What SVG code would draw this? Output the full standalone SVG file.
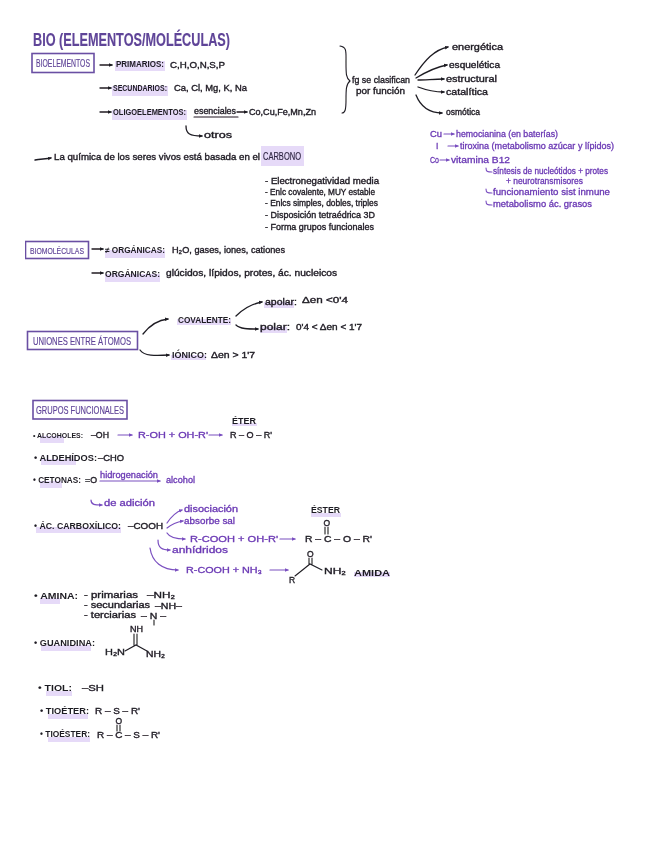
<svg xmlns="http://www.w3.org/2000/svg" width="656" height="848" viewBox="0 0 656 848">
<style>
text{font-family:"Liberation Sans",Arial,sans-serif;font-size:8.500px;fill:#1f1c24;font-weight:bold}
.l{font-size:8.500px;font-weight:normal;stroke:#1f1c24;stroke-width:.35}
.s{font-size:7.500px}
.p{fill:#6a38b4;font-weight:normal;stroke:#6a38b4;stroke-width:.3}
.h{fill:#5f4498;font-weight:normal;font-size:10.500px;stroke:#5f4498;stroke-width:.15}
.hl{fill:#e6daf8;stroke:none}
.box{fill:#fff;stroke:#6a4fa3;stroke-width:1.6}
.c{fill:none;stroke:#1f1c24;stroke-width:1.3;stroke-linecap:round;marker-end:url(#a)}
.n{fill:none;stroke:#1f1c24;stroke-width:1.1;stroke-linecap:round}
.cp{fill:none;stroke:#7a4fc0;stroke-width:1.2;stroke-linecap:round;marker-end:url(#b)}
.np{fill:none;stroke:#7a4fc0;stroke-width:1.1;stroke-linecap:round}
</style>
<defs>
<filter id="soft" x="0" y="0" width="100%" height="100%"><feGaussianBlur stdDeviation="0.35"/></filter>
<marker id="a" markerWidth="5" markerHeight="5" refX="3" refY="2.500" orient="auto" markerUnits="userSpaceOnUse"><path d="M0 .7L4 2.500L0 4.300Z" fill="#1f1c24"/></marker>
<marker id="b" markerWidth="5" markerHeight="5" refX="3" refY="2.500" orient="auto" markerUnits="userSpaceOnUse"><path d="M0 .7L4 2.500L0 4.300Z" fill="#7a4fc0"/></marker>
</defs>
<rect width="656" height="848" fill="#fff"/>
<g filter="url(#soft)">
<g id="connectors">
<path class="c" d="M100 65H112"/><path class="c" d="M100 88H111"/><path class="c" d="M100 112H111"/>
<path class="c" d="M237 112H247"/><path class="c" d="M186 126C186 134 190 136 202 136"/>
<path class="c" d="M35 160C40 159 46 159 51 158"/>
<path class="n" d="M340 46C347 47 346 52 346 62C346 74 346 78 350 81C346 84 346 90 346 100C346 110 345 113 342 113"/>
<path class="c" d="M415 75C425 60 434 50 448 47"/><path class="c" d="M416 78C426 72 436 67 447 65"/><path class="c" d="M418 80C426 80 434 79 444 79"/><path class="c" d="M418 87C426 90 434 92 444 92"/><path class="c" d="M416 95C420 105 428 113 442 113"/>
<path class="c" d="M92 249H103"/><path class="c" d="M92 273H103"/>
<path class="c" d="M143 334C150 325 158 320 168 319"/><path class="c" d="M236 316C242 310 250 304 262 302"/><path class="c" d="M236 325C240 329 248 329 258 329"/><path class="c" d="M140 350C144 356 155 356 169 355"/>
<path class="cp" d="M118 435H132"/><path class="cp" d="M209 435H222"/><path class="cp" d="M100 481H160"/><path class="cp" d="M91 500C91 505 95 505 102 505"/>
<path class="cp" d="M167 523C171 517 176 512 182 510"/><path class="cp" d="M167 528C172 524 177 522 183 521"/><path class="cp" d="M167 533C170 538 176 539 185 539"/><path class="cp" d="M280 539H295"/><path class="cp" d="M158 540C158 548 162 550 170 550"/><path class="cp" d="M150 548C152 562 162 570 178 570"/><path class="cp" d="M270 570H288"/>
<path class="cp" d="M444 134H454"/><path class="cp" d="M448 146H458"/><path class="cp" d="M440 160H449"/>
<path class="np" d="M486 168C486 172 488 172 492 172M486 189C486 193 488 193 492 193M486 201C486 205 488 205 492 205"/>
</g>

<g id="title"><text class="h" x="33" y="46" style="font-size:18px;font-weight:bold" textLength="197" lengthAdjust="spacingAndGlyphs">BIO (ELEMENTOS/MOLÉCULAS)</text></g>

<g id="bioelementos"><rect class="box" x="32" y="53.500" width="62" height="19"/><text class="h" x="36" y="67" textLength="54" lengthAdjust="spacingAndGlyphs">BIOELEMENTOS</text></g>
<g id="primarios"><rect class="hl" x="115" y="61" width="50" height="10"/><text x="116" y="67" textLength="48" lengthAdjust="spacingAndGlyphs">PRIMARIOS:</text><text class="l" x="170" y="68" textLength="55" lengthAdjust="spacingAndGlyphs">C,H,O,N,S,P</text></g>
<g id="secundarios"><rect class="hl" x="112" y="86" width="56" height="10"/><text x="113" y="91" textLength="54" lengthAdjust="spacingAndGlyphs">SECUNDARIOS:</text><text class="l" x="174" y="91" textLength="73" lengthAdjust="spacingAndGlyphs">Ca, Cl, Mg, K, Na</text></g>
<g id="oligoelementos"><rect class="hl" x="112" y="110" width="75" height="10"/><text x="113" y="115" textLength="73" lengthAdjust="spacingAndGlyphs">OLIGOELEMENTOS:</text><text class="l" x="194" y="114" textLength="42" lengthAdjust="spacingAndGlyphs">esenciales</text><path class="n" d="M194 117H238"/><text class="l" x="249" y="115" textLength="67" lengthAdjust="spacingAndGlyphs">Co,Cu,Fe,Mn,Zn</text></g>
<g id="otros"><text class="l" x="204" y="138" textLength="28" lengthAdjust="spacingAndGlyphs">otros</text></g>
<g id="quimica"><rect class="hl" x="261" y="146" width="43" height="20"/><text class="l" x="54" y="160" textLength="206" lengthAdjust="spacingAndGlyphs">La química de los seres vivos está basada en el</text><text class="h" x="263" y="160" textLength="38" lengthAdjust="spacingAndGlyphs" style="fill:#2d2440;stroke:#2d2440">CARBONO</text></g>
<g id="carbono-lista">
<text class="l" x="265" y="184" textLength="114" lengthAdjust="spacingAndGlyphs">- Electronegatividad media</text>
<text class="l" x="265" y="195" textLength="110" lengthAdjust="spacingAndGlyphs">- Enlc covalente, MUY estable</text>
<text class="l" x="265" y="206" textLength="113" lengthAdjust="spacingAndGlyphs">- Enlcs simples, dobles, triples</text>
<text class="l" x="265" y="218" textLength="110" lengthAdjust="spacingAndGlyphs">- Disposición tetraédrica 3D</text>
<text class="l" x="265" y="230" textLength="109" lengthAdjust="spacingAndGlyphs">- Forma grupos funcionales</text>
</g>
<g id="clasifican"><text class="l" x="352" y="83" textLength="58" lengthAdjust="spacingAndGlyphs">fg se clasifican</text><text class="l" x="356" y="94" textLength="49" lengthAdjust="spacingAndGlyphs">por función</text></g>
<g id="funciones">
<text class="l" x="452" y="50" textLength="51" lengthAdjust="spacingAndGlyphs">energética</text>
<text class="l" x="449" y="68" textLength="51" lengthAdjust="spacingAndGlyphs">esquelética</text>
<text class="l" x="446" y="82" textLength="51" lengthAdjust="spacingAndGlyphs">estructural</text>
<text class="l" x="446" y="95" textLength="42" lengthAdjust="spacingAndGlyphs">catalítica</text>
<text class="l" x="446" y="115" textLength="34" lengthAdjust="spacingAndGlyphs">osmótica</text>
</g>
<g id="oligo-notas">
<text class="p" x="430" y="137" textLength="12" lengthAdjust="spacingAndGlyphs">Cu</text><text class="p" x="456" y="137" textLength="102" lengthAdjust="spacingAndGlyphs">hemocianina (en baterías)</text>
<text class="p" x="436" y="149">I</text><text class="p" x="460" y="149" textLength="154" lengthAdjust="spacingAndGlyphs">tiroxina (metabolismo azúcar y lípidos)</text>
<text class="p" x="430" y="163" textLength="9" lengthAdjust="spacingAndGlyphs">Co</text><text class="p" x="451" y="163" textLength="59" lengthAdjust="spacingAndGlyphs">vitamina B12</text>
<text class="p" x="493" y="174" textLength="115" lengthAdjust="spacingAndGlyphs">síntesis de nucleótidos + protes</text>
<text class="p" x="506" y="184" textLength="77" lengthAdjust="spacingAndGlyphs">+ neurotransmisores</text>
<text class="p" x="493" y="195" textLength="117" lengthAdjust="spacingAndGlyphs">funcionamiento sist inmune</text>
<text class="p" x="493" y="207" textLength="99" lengthAdjust="spacingAndGlyphs">metabolismo ác. grasos</text>
</g>

<g id="biomoleculas"><rect class="box" x="25.500" y="241.500" width="63" height="17"/><text class="h" x="30" y="253.500" style="font-size:9px" textLength="54" lengthAdjust="spacingAndGlyphs">BIOMOLÉCULAS</text></g>
<g id="inorganicas"><rect class="hl" x="105" y="250" width="60" height="8"/><text x="105" y="253" textLength="60" lengthAdjust="spacingAndGlyphs">≠ ORGÁNICAS:</text><text class="l" x="172" y="253" textLength="113" lengthAdjust="spacingAndGlyphs">H₂O, gases, iones, cationes</text></g>
<g id="organicas"><rect class="hl" x="105" y="274" width="55" height="8"/><text x="105" y="277" textLength="55" lengthAdjust="spacingAndGlyphs">ORGÁNICAS:</text><text class="l" x="166" y="276" textLength="171" lengthAdjust="spacingAndGlyphs">glúcidos, lípidos, protes, ác. nucleicos</text></g>
<g id="uniones"><rect class="box" x="27.500" y="331.500" width="110" height="18"/><text class="h" x="33" y="345" textLength="98" lengthAdjust="spacingAndGlyphs">UNIONES ENTRE ÁTOMOS</text></g>
<g id="covalente"><rect class="hl" x="177" y="319" width="54" height="6"/><text x="178" y="323" textLength="53" lengthAdjust="spacingAndGlyphs">COVALENTE:</text></g>
<g id="apolar"><rect class="hl" x="264" y="302" width="30" height="6"/><text class="l" x="265" y="305" textLength="32" lengthAdjust="spacingAndGlyphs">apolar:</text><text class="l" x="302" y="303" textLength="46" lengthAdjust="spacingAndGlyphs">Δen &lt;0'4</text></g>
<g id="polar"><rect class="hl" x="260" y="327" width="27" height="6"/><text class="l" x="260" y="330" textLength="30" lengthAdjust="spacingAndGlyphs">polar:</text><text class="l" x="296" y="330" textLength="66" lengthAdjust="spacingAndGlyphs">0'4 &lt; Δen &lt; 1'7</text></g>
<g id="ionico"><rect class="hl" x="171" y="355" width="35" height="5"/><text x="172" y="358" textLength="35" lengthAdjust="spacingAndGlyphs">IÓNICO:</text><text class="l" x="211" y="358" textLength="44" lengthAdjust="spacingAndGlyphs">Δen &gt; 1'7</text></g>

<g id="grupos"><rect class="box" x="33" y="400.500" width="94" height="18.500"/><text class="h" x="36" y="414" textLength="88" lengthAdjust="spacingAndGlyphs">GRUPOS FUNCIONALES</text></g>
<g id="alcoholes"><rect class="hl" x="40" y="436" width="24" height="7"/><text class="s" x="33" y="438" textLength="50" lengthAdjust="spacingAndGlyphs">• ALCOHOLES:</text><text class="l" x="91" y="438" textLength="18" lengthAdjust="spacingAndGlyphs">–OH</text><text class="p" x="138" y="438" textLength="70" lengthAdjust="spacingAndGlyphs">R-OH + OH-R'</text><text class="l" x="230" y="438" textLength="42" lengthAdjust="spacingAndGlyphs">R – O – R'</text><rect class="hl" x="232" y="423" width="25" height="3"/><text x="232" y="424" textLength="24" lengthAdjust="spacingAndGlyphs">ÉTER</text></g>
<g id="aldehidos"><rect class="hl" x="41" y="459" width="35" height="6"/><text x="34" y="461" textLength="63" lengthAdjust="spacingAndGlyphs">• ALDEHÍDOS:</text><text class="l" x="98" y="461" textLength="26" lengthAdjust="spacingAndGlyphs">–CHO</text></g>
<g id="cetonas"><rect class="hl" x="40" y="481" width="22" height="7"/><text x="33" y="483" textLength="48" lengthAdjust="spacingAndGlyphs">• CETONAS:</text><text class="l" x="85" y="483" textLength="12" lengthAdjust="spacingAndGlyphs">=O</text><text class="p" x="100" y="478" textLength="58" lengthAdjust="spacingAndGlyphs">hidrogenación</text><text class="p" x="166" y="483" textLength="29" lengthAdjust="spacingAndGlyphs">alcohol</text><text class="p" x="104" y="506" textLength="51" lengthAdjust="spacingAndGlyphs">de adición</text></g>
<g id="carboxilico"><rect class="hl" x="36" y="527" width="85" height="6"/><text x="34" y="529" textLength="87" lengthAdjust="spacingAndGlyphs">• ÁC. CARBOXÍLICO:</text><text class="l" x="128" y="529" textLength="35" lengthAdjust="spacingAndGlyphs">–COOH</text>
<text class="p" x="184" y="512" textLength="54" lengthAdjust="spacingAndGlyphs">disociación</text><text class="p" x="184" y="524" textLength="51" lengthAdjust="spacingAndGlyphs">absorbe sal</text><text class="p" x="190" y="542" textLength="88" lengthAdjust="spacingAndGlyphs">R-COOH + OH-R'</text><text class="p" x="172" y="553" textLength="56" lengthAdjust="spacingAndGlyphs">anhídridos</text><text class="p" x="186" y="573" textLength="76" lengthAdjust="spacingAndGlyphs">R-COOH + NH₃</text></g>
<g id="ester"><rect class="hl" x="311" y="513" width="30" height="4"/><text x="311" y="513" textLength="29" lengthAdjust="spacingAndGlyphs">ÉSTER</text><text class="l" x="323.500" y="526">O</text><path class="n" d="M325 527V534M328 527V534"/><text class="l" x="305" y="542" textLength="67" lengthAdjust="spacingAndGlyphs">R – C – O – R'</text></g>
<g id="amida"><text class="l" x="289" y="583">R</text><text class="l" x="307" y="557">O</text><path class="n" d="M295 576L310 564L322 570M309 558V564M312 558V564"/><text class="l" x="324" y="574" textLength="22" lengthAdjust="spacingAndGlyphs">NH₂</text><rect class="hl" x="354" y="572" width="36" height="5"/><text x="354" y="576" textLength="36" lengthAdjust="spacingAndGlyphs">AMIDA</text></g>
<g id="amina"><rect class="hl" x="40" y="598" width="20" height="6"/><text x="34" y="599" textLength="44" lengthAdjust="spacingAndGlyphs">• AMINA:</text>
<text class="l" x="84" y="598" textLength="54" lengthAdjust="spacingAndGlyphs">- primarias</text><text class="l" x="147" y="598" textLength="28" lengthAdjust="spacingAndGlyphs">–NH₂</text>
<text class="l" x="84" y="608" textLength="66" lengthAdjust="spacingAndGlyphs">- secundarias</text><text class="l" x="155" y="609" textLength="27" lengthAdjust="spacingAndGlyphs">–NH–</text>
<text class="l" x="84" y="618" textLength="52" lengthAdjust="spacingAndGlyphs">- terciarias</text><text class="l" x="141" y="619" textLength="25" lengthAdjust="spacingAndGlyphs">– N –</text><path class="n" d="M154 620V625"/></g>
<g id="guanidina"><rect class="hl" x="41" y="645" width="50" height="6"/><text x="34" y="646" textLength="61" lengthAdjust="spacingAndGlyphs">• GUANIDINA:</text><text class="l" x="130" y="632" textLength="13" lengthAdjust="spacingAndGlyphs">NH</text><path class="n" d="M134 634V645M137 634V645M125 651L136 645L147 651"/><text class="l" x="105" y="655" textLength="20" lengthAdjust="spacingAndGlyphs">H₂N</text><text class="l" x="146" y="657" textLength="19" lengthAdjust="spacingAndGlyphs">NH₂</text></g>
<g id="tiol"><rect class="hl" x="46" y="691" width="26" height="5"/><text x="38" y="691" textLength="34" lengthAdjust="spacingAndGlyphs">• TIOL:</text><text class="l" x="82" y="691" textLength="22" lengthAdjust="spacingAndGlyphs">–SH</text></g>
<g id="tioeter"><rect class="hl" x="48" y="714" width="40" height="5"/><text x="40" y="714" textLength="49" lengthAdjust="spacingAndGlyphs">• TIOÉTER:</text><text class="l" x="95" y="714" textLength="45" lengthAdjust="spacingAndGlyphs">R – S – R'</text></g>
<g id="tioester"><rect class="hl" x="48" y="737" width="42" height="5"/><text x="40" y="737" textLength="50" lengthAdjust="spacingAndGlyphs">• TIOÉSTER:</text><text class="l" x="115.500" y="724">O</text><path class="n" d="M117 725V731M120 725V731"/><text class="l" x="97" y="738" textLength="63" lengthAdjust="spacingAndGlyphs">R – C – S – R'</text></g>
</g>
</svg>
